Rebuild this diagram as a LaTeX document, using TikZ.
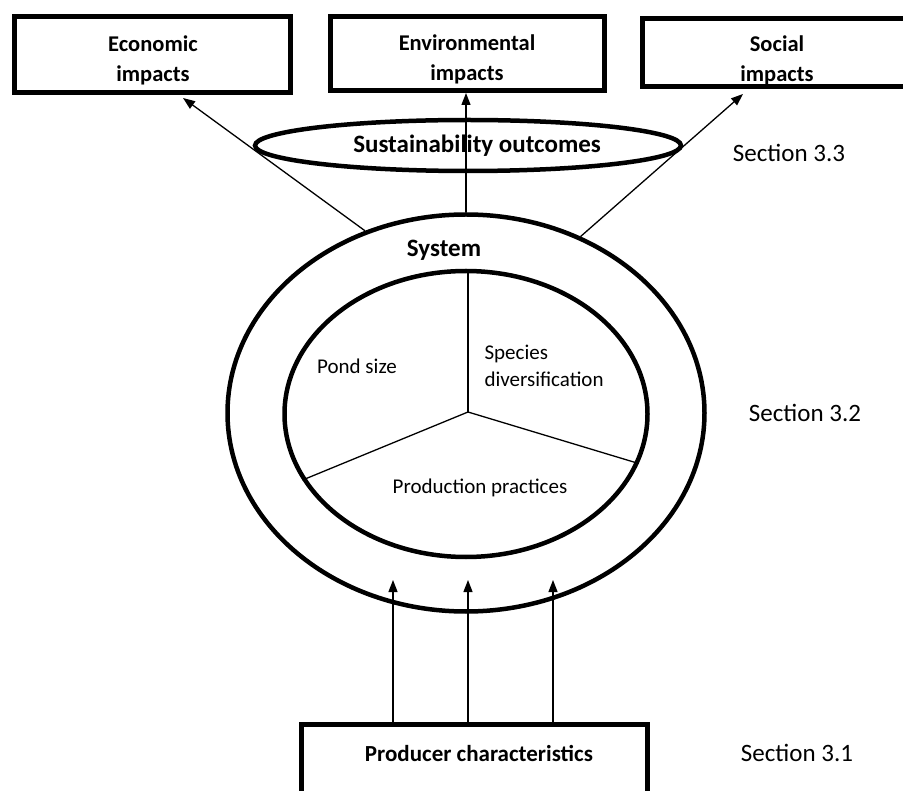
\documentclass[tikz,border=0pt]{standalone}
\usepackage{fontspec}
\setmainfont{Carlito}
\usetikzlibrary{shapes.geometric,arrows.meta}
\begin{document}
\begin{tikzpicture}[x=1pt,y=-1pt,
  framebox/.style={draw, line width=5pt, rectangle, inner sep=0pt},
  impacttext/.style={align=center, inner sep=0pt,
    font=\fontsize{22.5}{30}\selectfont\bfseries},
  ring/.style={draw, line width=4.5pt, ellipse, inner sep=0pt},
  flow/.style={line width=1.3pt, -{Triangle[length=12pt,width=9pt]}},
  spoke/.style={line width=1.3pt},
  part/.style={font=\fontsize{21}{27}\selectfont},
  section/.style={font=\fontsize{25}{30}\selectfont},
]
\useasboundingbox (0,0) rectangle (903,791);
\clip (0,0) rectangle (903,791);

% impact boxes along the top
\node[framebox, minimum width=276, minimum height=76] (econ) at (152,55) {};
\node[framebox, minimum width=274, minimum height=74] (env) at (467.5,53.5) {};
\node[framebox, minimum width=310, minimum height=68] (soc) at (797.5,53) {};
\node[impacttext] (econtext) at (153,60) {Economic\\impacts};
\node[impacttext] (envtext) at (467,59.5) {Environmental\\impacts};
\node[impacttext] (soctext) at (777,60.5) {Social\\impacts};

% sustainability outcomes
\node[ring, minimum width=426, minimum height=51,
  font=\fontsize{25}{30}\selectfont\bfseries,
  execute at begin node={\hspace*{18pt}}] (sust) at (468,145.5) {Sustainability outcomes};

% system rings
\node[ring, minimum width=477, minimum height=397] (sys) at (466,413) {};
\node[ring, minimum width=363, minimum height=286] (inner) at (466,414) {};
\node[font=\fontsize{25}{30}\selectfont\bfseries] (syslabel) at (444,250) {System};

% three sectors of the inner ring
\coordinate (hub) at (468,412);
\draw[spoke] (hub) -- (hub |- inner.north);
\draw[spoke] (hub) -- (inner.202);
\draw[spoke] (hub) -- (inner.344);
\node[part] (pond) at (357,366) {Pond size};
\node[part, anchor=west, align=left] (species) at (481,366) {Species\\diversification};
\node[part] (practices) at (480,488) {Production practices};

% arrows from the system to the impacts
\coordinate (econtip) at (183,98);
\coordinate (soctip) at (743,94);
\draw[flow] (sys.119) -- (econtip);
\draw[flow] (sys.north) -- (sys.north |- env.south);
\draw[flow] (sys.57) -- (soctip);

% producer characteristics
\node[framebox, minimum width=346, minimum height=90] (prod) at (474.5,769.5) {};
\node[font=\fontsize{23}{28}\selectfont\bfseries] (prodtext) at (479,753) {Producer characteristics};
\coordinate (t1) at (393,580);
\coordinate (t2) at (468,580);
\coordinate (t3) at (553,580);
\draw[flow] (prod.north -| t1) -- (t1);
\draw[flow] (prod.north -| t2) -- (t2);
\draw[flow] (prod.north -| t3) -- (t3);

% section references
\node[section] (s33) at (789,153) {Section 3.3};
\node[section] (s32) at (805,413) {Section 3.2};
\node[section] (s31) at (797,753) {Section 3.1};
\end{tikzpicture}
\end{document}
